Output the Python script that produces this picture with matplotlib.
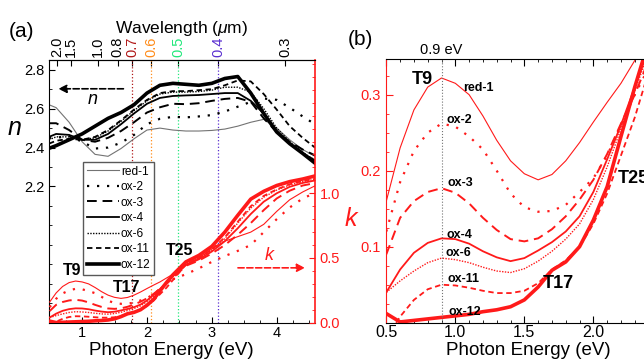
import numpy as np
import matplotlib
matplotlib.use("Agg")
import matplotlib.pyplot as plt
from matplotlib.ticker import MultipleLocator, FixedLocator

plt.rcParams['font.family'] = ['Liberation Sans', 'DejaVu Sans']
plt.rcParams['mathtext.fontset'] = 'custom'
plt.rcParams['mathtext.rm'] = 'Liberation Sans'
plt.rcParams['mathtext.it'] = 'Liberation Sans:italic'

samples = ["red-1", "ox-2", "ox-3", "ox-4", "ox-6", "ox-11", "ox-12"]

# refractive index n vs photon energy (eV)
e_n = [0.49, 0.6, 0.8, 1.0, 1.2, 1.4, 1.6, 1.8, 2.0, 2.2, 2.4, 2.6, 2.8, 3.0,
       3.2, 3.4, 3.6, 3.8, 4.0, 4.2, 4.4, 4.59]
n_red1 = [2.62, 2.605, 2.53, 2.43, 2.365, 2.355, 2.395, 2.445, 2.49, 2.50, 2.49,
          2.485, 2.485, 2.488, 2.495, 2.51, 2.53, 2.545, 2.50, 2.44, 2.39, 2.355]
n_ox2 = [2.45, 2.45, 2.46, 2.43, 2.395, 2.40, 2.425, 2.465, 2.52, 2.548, 2.558,
         2.555, 2.56, 2.567, 2.585, 2.61, 2.635, 2.652, 2.645, 2.605, 2.56, 2.52]
n_ox3 = [2.525, 2.525, 2.49, 2.44, 2.43, 2.45, 2.485, 2.53, 2.58, 2.607, 2.625,
         2.623, 2.628, 2.64, 2.65, 2.655, 2.635, 2.55, 2.48, 2.43, 2.39, 2.36]
n_ox4 = [2.455, 2.47, 2.465, 2.44, 2.44, 2.47, 2.52, 2.575, 2.625, 2.655, 2.665,
         2.668, 2.67, 2.675, 2.68, 2.68, 2.64, 2.575, 2.485, 2.42, 2.37, 2.335]
n_ox6 = [2.44, 2.455, 2.455, 2.44, 2.45, 2.485, 2.535, 2.59, 2.64, 2.675, 2.685,
         2.685, 2.688, 2.695, 2.71, 2.71, 2.685, 2.60, 2.50, 2.43, 2.375, 2.335]
n_ox11 = [2.42, 2.435, 2.445, 2.44, 2.455, 2.49, 2.54, 2.595, 2.645, 2.68, 2.69,
          2.69, 2.695, 2.70, 2.72, 2.745, 2.74, 2.675, 2.595, 2.51, 2.45, 2.40]
n_ox12 = [2.396, 2.41, 2.44, 2.47, 2.51, 2.55, 2.58, 2.62, 2.68, 2.72, 2.73,
          2.725, 2.72, 2.73, 2.755, 2.765, 2.68, 2.575, 2.48, 2.42, 2.37, 2.32]

# extinction coefficient k (below 2.4 eV from panel b, above from panel a)
e_k = [0.5, 0.6, 0.7, 0.8, 0.9, 1.0, 1.1, 1.2, 1.3, 1.4, 1.5, 1.6, 1.7, 1.8,
       1.9, 2.0, 2.1, 2.2, 2.3, 2.4, 2.6, 2.8, 3.0, 3.2, 3.4, 3.6, 3.8, 4.0,
       4.2, 4.4, 4.6]
k_red1 = [0.16, 0.23, 0.28, 0.31, 0.322, 0.315, 0.30, 0.272, 0.24, 0.213, 0.196,
          0.188, 0.195, 0.213, 0.237, 0.264, 0.29, 0.315, 0.345, 0.375, 0.45,
          0.50, 0.57, 0.63, 0.665, 0.70, 0.76, 0.86, 0.95, 1.01, 1.06]
k_ox2 = [0.12, 0.185, 0.226, 0.25, 0.262, 0.258, 0.245, 0.228, 0.20, 0.17, 0.152,
         0.146, 0.147, 0.155, 0.172, 0.19, 0.22, 0.26, 0.30, 0.335, 0.375,
         0.42, 0.47, 0.515, 0.555, 0.60, 0.70, 0.80, 0.89, 0.96, 1.005]
k_ox3 = [0.09, 0.138, 0.16, 0.172, 0.177, 0.171, 0.157, 0.138, 0.122, 0.11, 0.107,
         0.111, 0.123, 0.14, 0.162, 0.188, 0.222, 0.262, 0.30, 0.345, 0.44,
         0.48, 0.535, 0.60, 0.68, 0.77, 0.87, 0.96, 1.02, 1.06, 1.08]
k_ox4 = [0.04, 0.07, 0.092, 0.105, 0.111, 0.11, 0.104, 0.094, 0.086, 0.081, 0.085,
         0.095, 0.106, 0.12, 0.14, 0.172, 0.215, 0.26, 0.31, 0.36, 0.445,
         0.49, 0.55, 0.63, 0.73, 0.84, 0.935, 1.0, 1.05, 1.08, 1.10]
k_ox6 = [0.04, 0.055, 0.068, 0.079, 0.085, 0.083, 0.079, 0.073, 0.068, 0.066, 0.071,
         0.081, 0.094, 0.11, 0.13, 0.162, 0.205, 0.255, 0.305, 0.355, 0.45,
         0.50, 0.56, 0.65, 0.77, 0.885, 0.97, 1.025, 1.065, 1.09, 1.11]
k_ox11 = [-0.02, 0.008, 0.03, 0.044, 0.05, 0.049, 0.046, 0.042, 0.039, 0.039, 0.042,
          0.052, 0.07, 0.082, 0.10, 0.13, 0.17, 0.22, 0.27, 0.33, 0.45,
          0.50, 0.565, 0.66, 0.78, 0.90, 0.98, 1.03, 1.07, 1.095, 1.115]
k_ox12 = [0.012, 0.001, 0.003, 0.005, 0.007, 0.009, 0.011, 0.0145, 0.017, 0.021, 0.03,
          0.047, 0.069, 0.08, 0.10, 0.135, 0.179, 0.245, 0.31, 0.37, 0.47,
          0.52, 0.59, 0.70, 0.83, 0.955, 1.015, 1.06, 1.09, 1.11, 1.135]

n_data = [n_red1, n_ox2, n_ox3, n_ox4, n_ox6, n_ox11, n_ox12]
k_data = [k_red1, k_ox2, k_ox3, k_ox4, k_ox6, k_ox11, k_ox12]

# wavelength axis (um)
wl_ticks = [2.0, 1.5, 1.0, 0.8, 0.7, 0.6, 0.5, 0.4, 0.3]
wl_marks = [0.7, 0.6, 0.5, 0.4]
wl_colors = ["#b01818", "#ff8c1a", "#20e87a", "#5a2fd0"]
HC = 1.2398

# line styles per sample (n panel / k panel)
styles = [
    dict(ls='-', lw=0.8),
    dict(ls=(0, (1, 3.5)), lw=1.6),
    dict(ls=(0, (5, 3)), lw=1.4),
    dict(ls='-', lw=1.3),
    dict(ls=(0, (1, 1)), lw=1.0),
    dict(ls=(0, (3, 2)), lw=1.3),
    dict(ls='-', lw=2.6),
]
RED = '#ff1a1a'

fig = plt.figure(figsize=(6.44, 3.59), dpi=100)

# ---------------- panel (a) ----------------
ax = fig.add_axes([0.0761, 0.1011, 0.4130, 0.7318])
axk = ax.twinx()

for wl, c in zip(wl_marks, wl_colors):
    ax.axvline(HC / wl, color=c, ls=':', lw=0.9, zorder=1)

handles = []
for i, name in enumerate(samples):
    col = '0.45' if name == 'red-1' else 'black'
    h, = ax.plot(e_n, n_data[i], color=col, label=name, **styles[i])
    handles.append(h)
    axk.plot(e_k, k_data[i], color=RED, **styles[i])

ax.set_xlim(0.49, 4.59)
ax.set_ylim(1.5, 2.85)
axk.set_ylim(0, 2.03)

ax.yaxis.set_major_locator(FixedLocator([2.2, 2.4, 2.6, 2.8]))
ax.yaxis.set_minor_locator(MultipleLocator(0.1))
ax.xaxis.set_major_locator(MultipleLocator(1))
ax.xaxis.set_minor_locator(MultipleLocator(0.25))
ax.tick_params(which='both', direction='in', top=False, right=False, labelsize=10.5)
ax.tick_params(axis='x', pad=2.5)
ax.tick_params(which='major', length=4)
ax.tick_params(which='minor', length=2)
ax.spines['right'].set_visible(False)
ax.spines['top'].set_visible(False)

axk.yaxis.set_major_locator(FixedLocator([0.0, 0.5, 1.0]))
axk.yaxis.set_minor_locator(MultipleLocator(0.1))
axk.yaxis.set_major_formatter(plt.FuncFormatter(lambda v, p: f"{v:.1f}"))
axk.tick_params(axis='y', which='both', direction='in', colors=RED, labelsize=10.5)
axk.tick_params(which='major', length=4)
axk.tick_params(which='minor', length=2)
axk.spines['right'].set_color(RED)
axk.spines['right'].set_linewidth(1.2)
for s in ['left', 'bottom']:
    axk.spines[s].set_visible(False)


def e2l(e):
    e = np.asarray(e, dtype=float)
    with np.errstate(divide='ignore'):
        return HC / e


sec = ax.secondary_xaxis('top', functions=(e2l, e2l))
sec.set_xticks(wl_ticks)
sec.set_xticklabels([f"{w:.1f}" for w in wl_ticks], rotation=90)
sec.tick_params(direction='in', length=4, pad=2, labelsize=10.5)
for lbl, w in zip(sec.get_xticklabels(), wl_ticks):
    if w in wl_marks:
        lbl.set_color(wl_colors[wl_marks.index(w)])
sec.set_xlabel('Wavelength ($\\mu$m)', fontsize=12.5, labelpad=3)

ax.set_xlabel('Photon Energy (eV)', fontsize=13.5)
ax.xaxis.set_label_coords(0.459, -0.072)
ax.set_ylabel('n', fontsize=18, style='italic', rotation=0, va='center', ha='center')
ax.yaxis.set_label_coords(-0.128, 0.741)
axk.set_ylabel('k', fontsize=18, style='italic', rotation=0, va='center', ha='center', color=RED)
axk.yaxis.set_label_coords(1.135, 0.395)

# arrows and labels
ax.annotate('', xy=(0.59, 2.702), xytext=(1.68, 2.702),
            arrowprops=dict(arrowstyle='-|>', ls='--', color='black', lw=1.2, mutation_scale=12))
ax.text(1.16, 2.645, 'n', fontsize=13, style='italic', ha='center', va='center')
axk.annotate('', xy=(4.48, 0.424), xytext=(3.36, 0.424),
             arrowprops=dict(arrowstyle='-|>', ls='--', color=RED, lw=1.2, mutation_scale=12))
axk.text(3.88, 0.517, 'k', fontsize=13, style='italic', ha='center', va='center', color=RED)
axk.text(0.84, 0.405, 'T9', fontsize=11.5, weight='bold', ha='center', va='center')
axk.text(1.68, 0.269, 'T17', fontsize=11.5, weight='bold', ha='center', va='center')
axk.text(2.50, 0.556, 'T25', fontsize=11.5, weight='bold', ha='center', va='center')

leg = axk.legend(handles, samples, loc='upper left', bbox_to_anchor=(0.129, 0.612),
                 borderaxespad=0, fancybox=False, edgecolor='0.35', framealpha=1,
                 fontsize=8.6, handlelength=2.7, handletextpad=0.15,
                 labelspacing=0.3, borderpad=0.3)
leg.get_frame().set_linewidth(1.0)

# ---------------- panel (b) ----------------
axb = fig.add_axes([0.5988, 0.1011, 0.4190, 0.7346])
for i, name in enumerate(samples):
    axb.plot(e_k, k_data[i], color=RED, **styles[i])
axb.axvline(0.9, color='0.45', ls=':', lw=0.8)
axb.set_xlim(0.495, 2.45)
axb.set_ylim(0, 0.347)
axb.xaxis.set_major_locator(MultipleLocator(0.5))
axb.xaxis.set_minor_locator(MultipleLocator(0.1))
axb.xaxis.set_major_formatter(plt.FuncFormatter(lambda v, p: f"{v:.1f}"))
axb.yaxis.set_major_locator(FixedLocator([0.1, 0.2, 0.3]))
axb.yaxis.set_minor_locator(MultipleLocator(0.025))
axb.tick_params(which='both', direction='in', top=True, right=False)
axb.tick_params(axis='x', labelsize=11.5, pad=2)
axb.tick_params(axis='y', which='both', colors=RED, labelsize=10.5)
axb.tick_params(which='major', length=5)
axb.tick_params(which='minor', length=2.5)
axb.spines['left'].set_color(RED)
axb.set_xlabel('Photon Energy (eV)', fontsize=13.5)
axb.xaxis.set_label_coords(0.527, -0.072)

axb.text(0.9, 1.034, '0.9 eV', transform=axb.get_xaxis_transform(),
         fontsize=10.5, ha='center', va='center')
axb.text(0.76, 0.32, 'T9', fontsize=13, weight='bold', ha='center', va='center')
axb.text(1.745, 0.051, 'T17', fontsize=13, weight='bold', ha='center', va='center')
axb.text(2.175, 0.19, 'T25', fontsize=13, weight='bold', ha='left', va='center')
curve_labels = [(1.17, 0.309), (1.03, 0.267), (1.04, 0.184), (1.03, 0.115),
                (1.02, 0.0915), (1.06, 0.0575), (1.07, 0.014)]
for name, (x, y) in zip(samples, curve_labels):
    axb.text(x, y, name, fontsize=9, weight='bold', ha='center', va='center')

fig.text(0.033, 0.911, '(a)', fontsize=15, ha='center', va='center')
fig.text(0.560, 0.889, '(b)', fontsize=15, ha='center', va='center')

fig.savefig('out.png', dpi=100)
